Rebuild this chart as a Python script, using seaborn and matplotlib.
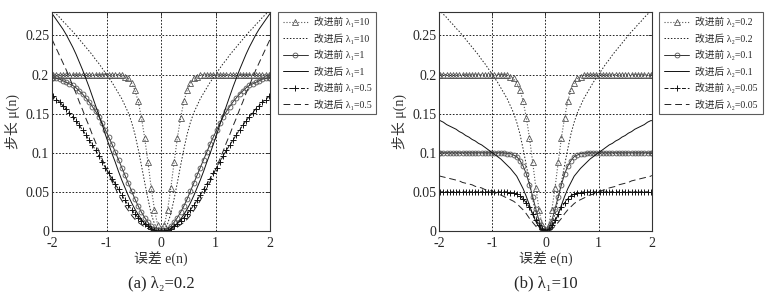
import numpy as np
import pandas as pd
import matplotlib
matplotlib.use("Agg")
import matplotlib.pyplot as plt
import seaborn as sns

# 半边误差网格 e >= 0（曲线关于 e=0 对称）
e_half = list(np.round(np.arange(0, 1.99, 0.06), 2)) + [2.0]

# (a) λ2=0.2
before_l10 = [0.000, 0.007, 0.027, 0.055, 0.088, 0.119, 0.145, 0.166, 0.180, 0.189,
              0.195, 0.197, 0.199, 0.200, 0.200, 0.200, 0.200, 0.200, 0.200, 0.200,
              0.200, 0.200, 0.200, 0.200, 0.200, 0.200, 0.200, 0.200, 0.200, 0.200,
              0.200, 0.200, 0.200, 0.200, 0.200]
after_l10 = [0.000, 0.002, 0.009, 0.022, 0.041, 0.062, 0.084, 0.105, 0.124, 0.139,
             0.151, 0.160, 0.169, 0.176, 0.183, 0.190, 0.196, 0.202, 0.208, 0.214,
             0.219, 0.225, 0.230, 0.235, 0.240, 0.245, 0.250, 0.255, 0.259, 0.264,
             0.268, 0.273, 0.277, 0.281, 0.283]
before_l1 = [0.000, 0.001, 0.003, 0.006, 0.011, 0.017, 0.024, 0.032, 0.041, 0.051,
             0.061, 0.071, 0.081, 0.091, 0.101, 0.111, 0.120, 0.129, 0.138, 0.146,
             0.153, 0.159, 0.165, 0.170, 0.175, 0.179, 0.183, 0.186, 0.188, 0.190,
             0.192, 0.194, 0.195, 0.196, 0.196]
after_l1 = [0.000, 0.000, 0.001, 0.003, 0.006, 0.009, 0.015, 0.021, 0.028, 0.036,
            0.045, 0.055, 0.065, 0.076, 0.088, 0.099, 0.111, 0.123, 0.136, 0.148,
            0.160, 0.172, 0.184, 0.195, 0.206, 0.216, 0.226, 0.235, 0.243, 0.251,
            0.258, 0.264, 0.270, 0.276, 0.278]
before_l05 = [0.000, 0.000, 0.001, 0.003, 0.006, 0.009, 0.013, 0.017, 0.022, 0.027,
              0.033, 0.039, 0.046, 0.053, 0.060, 0.067, 0.074, 0.081, 0.088, 0.096,
              0.103, 0.110, 0.116, 0.123, 0.129, 0.135, 0.141, 0.146, 0.151, 0.156,
              0.160, 0.165, 0.168, 0.172, 0.173]
after_l05 = [0.000, 0.000, 0.001, 0.001, 0.003, 0.005, 0.008, 0.011, 0.015, 0.020,
             0.026, 0.032, 0.039, 0.046, 0.055, 0.063, 0.072, 0.082, 0.092, 0.102,
             0.113, 0.123, 0.134, 0.144, 0.155, 0.165, 0.176, 0.186, 0.196, 0.206,
             0.215, 0.224, 0.233, 0.242, 0.245]

# (b) λ1=10
before_r02 = [0.000, 0.007, 0.027, 0.055, 0.088, 0.119, 0.145, 0.166, 0.180, 0.189,
              0.195, 0.197, 0.199, 0.200, 0.200, 0.200, 0.200, 0.200, 0.200, 0.200,
              0.200, 0.200, 0.200, 0.200, 0.200, 0.200, 0.200, 0.200, 0.200, 0.200,
              0.200, 0.200, 0.200, 0.200, 0.200]
after_r02 = [0.000, 0.002, 0.009, 0.022, 0.041, 0.062, 0.084, 0.105, 0.124, 0.139,
             0.151, 0.160, 0.169, 0.176, 0.183, 0.190, 0.196, 0.202, 0.208, 0.214,
             0.219, 0.225, 0.230, 0.235, 0.240, 0.245, 0.250, 0.255, 0.259, 0.264,
             0.268, 0.273, 0.277, 0.281, 0.283]
before_r01 = [0.000, 0.004, 0.013, 0.028, 0.044, 0.059, 0.073, 0.083, 0.090, 0.095,
              0.097, 0.099, 0.099, 0.100, 0.100, 0.100, 0.100, 0.100, 0.100, 0.100,
              0.100, 0.100, 0.100, 0.100, 0.100, 0.100, 0.100, 0.100, 0.100, 0.100,
              0.100, 0.100, 0.100, 0.100, 0.100]
after_r01 = [0.000, 0.001, 0.005, 0.012, 0.021, 0.033, 0.044, 0.054, 0.062, 0.070,
             0.075, 0.080, 0.084, 0.088, 0.092, 0.095, 0.098, 0.101, 0.104, 0.107,
             0.110, 0.112, 0.115, 0.117, 0.120, 0.122, 0.125, 0.127, 0.130, 0.132,
             0.134, 0.136, 0.139, 0.141, 0.141]
before_r005 = [0.000, 0.002, 0.007, 0.014, 0.022, 0.030, 0.036, 0.041, 0.045, 0.047,
               0.049, 0.049, 0.050, 0.050, 0.050, 0.050, 0.050, 0.050, 0.050, 0.050,
               0.050, 0.050, 0.050, 0.050, 0.050, 0.050, 0.050, 0.050, 0.050, 0.050,
               0.050, 0.050, 0.050, 0.050, 0.050]
after_r005 = [0.000, 0.000, 0.002, 0.006, 0.011, 0.016, 0.022, 0.027, 0.031, 0.035,
              0.038, 0.040, 0.042, 0.044, 0.046, 0.047, 0.049, 0.051, 0.052, 0.053,
              0.055, 0.056, 0.057, 0.059, 0.060, 0.061, 0.062, 0.064, 0.065, 0.066,
              0.067, 0.068, 0.069, 0.070, 0.071]

labels_a = ["改进前 λ₁=10", "改进后 λ₁=10", "改进前 λ₁=1", "改进后 λ₁=1",
            "改进前 λ₁=0.5", "改进后 λ₁=0.5"]
labels_b = ["改进前 λ₂=0.2", "改进后 λ₂=0.2", "改进前 λ₂=0.1", "改进后 λ₂=0.1",
            "改进前 λ₂=0.05", "改进后 λ₂=0.05"]
captions = ["(a) λ₂=0.2", "(b) λ₁=10"]
xticks = [-2, -1, 0, 1, 2]
xticklabels = ["-2", "-1", "0", "1", "2"]
yticks = [0, 0.05, 0.1, 0.15, 0.2, 0.25]
yticklabels = ["0", "0.05", "0.1", "0.15", "0.2", "0.25"]

sns.set_style("white")
plt.rcParams["font.family"] = ["Liberation Serif", "Noto Sans CJK SC", "DejaVu Sans"]


def mirror(v):
    v = list(v)
    return v[::-1][:-1] + v


e_full = [-x for x in e_half][::-1][:-1] + list(e_half)

# 线型：与原图 MATLAB 风格一致（空心标记）
styles = [
    dict(color="#555555", linestyle=":", linewidth=0.8, marker="^", markersize=3.8,
         markerfacecolor="none", markeredgecolor="#555555", markeredgewidth=0.6),
    dict(color="#222222", linestyle=(0, (1.5, 1.8)), linewidth=0.7),
    dict(color="#333333", linestyle="-", linewidth=0.7, marker="o", markersize=3.5,
         markerfacecolor="none", markeredgecolor="#555555", markeredgewidth=0.6),
    dict(color="#111111", linestyle="-", linewidth=0.7),
    dict(color="#111111", linestyle=(0, (4, 2)), linewidth=0.7, marker="+",
         markersize=4, markeredgecolor="#111111", markeredgewidth=0.7),
    dict(color="#222222", linestyle=(0, (7, 4)), linewidth=0.7),
]

fig = plt.figure(figsize=(7.65, 2.98), dpi=100)
ax_a = fig.add_axes([0.068, 0.225, 0.285, 0.735])
ax_b = fig.add_axes([0.574, 0.225, 0.278, 0.735])

panels = [
    (ax_a, [before_l10, after_l10, before_l1, after_l1, before_l05, after_l05], labels_a),
    (ax_b, [before_r02, after_r02, before_r01, after_r01, before_r005, after_r005], labels_b),
]

for k, (ax, series, labels) in enumerate(panels):
    for vals, lab, st in zip(series, labels, styles):
        df = pd.DataFrame({"e": e_full, "mu": mirror(vals)})
        sns.lineplot(data=df, x="e", y="mu", ax=ax, label=lab, sort=False,
                     estimator=None, **st)
    ax.set_xlim(-2, 2)
    ax.set_ylim(0, 0.28)
    ax.set_xticks(xticks)
    ax.set_xticklabels(xticklabels)
    ax.set_yticks(yticks)
    ax.set_yticklabels(yticklabels)
    ax.grid(True, color="black", linestyle=(0, (2, 2)), linewidth=0.6)
    ax.tick_params(direction="in", length=3, width=0.6, labelsize=10,
                   top=True, right=True)
    ax.tick_params(axis="x", pad=4)
    ax.tick_params(axis="y", pad=2)
    for sp in ax.spines.values():
        sp.set_visible(True)
        sp.set_color("#333333")
        sp.set_linewidth(0.8)
    ax.set_xlabel("误差 e(n)", fontsize=10, color="#333333", labelpad=2)
    ax.set_ylabel("步长 μ(n)", fontsize=10, color="#333333", labelpad=4)
    leg = ax.legend(loc="upper left", bbox_to_anchor=(1.035, 1.0), fontsize=7,
                    frameon=True, fancybox=False, edgecolor="#333333",
                    handlelength=2.6, labelspacing=0.62, borderpad=0.5,
                    handletextpad=0.6, borderaxespad=0)
    leg.get_frame().set_linewidth(0.8)
    ax.text(0.5, -0.24, captions[k], transform=ax.transAxes, ha="center",
            va="center", fontsize=12)

fig.savefig("out.png", dpi=100)
